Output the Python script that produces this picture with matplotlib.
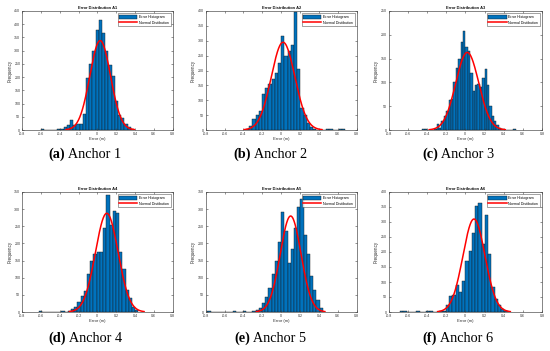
import numpy as np
import matplotlib
matplotlib.use('Agg')
import matplotlib.pyplot as plt

# ---------------- data ----------------
titles = ['Error Distribution A1', 'Error Distribution A2', 'Error Distribution A3',
          'Error Distribution A4', 'Error Distribution A5', 'Error Distribution A6']
cap_tags = ['(a)', '(b)', '(c)', '(d)', '(e)', '(f)']
cap_texts = ['Anchor 1', 'Anchor 2', 'Anchor 3', 'Anchor 4', 'Anchor 5', 'Anchor 6']
legend_labels = ['Error Histogram', 'Normal Distibution']
x_ticks = [-0.8, -0.6, -0.4, -0.2, 0, 0.2, 0.4, 0.6, 0.8]
y_max = [450, 400, 250, 350, 350, 400]

a1_start, a1_width = -0.596, 0.034
a1_counts = [2, 0, 1, 0, 0, 3, 5, 12, 20, 38, 20, 22, 22, 60, 195, 250, 300, 380, 415,
             365, 300, 245, 205, 110, 55, 45, 22, 10, 5]

a2_start, a2_width = -0.374, 0.034
a2_counts = [5, 15, 38, 50, 65, 120, 140, 155, 170, 190, 225, 315, 250, 265, 285, 395,
             205, 75, 50, 25, 10, 5, 0, 0, 0, 2, 2, 0, 0, 2, 2]

a3_start, a3_width = -0.45, 0.025
a3_counts = [2, 2, 0, 0, 0, 3, 12, 5, 18, 30, 40, 62, 65, 100, 130, 150, 185, 207, 175,
             165, 120, 82, 95, 97, 90, 110, 128, 95, 50, 30, 18, 10, 5, 2, 0, 0, 0, 0, 3]

a4_start, a4_width = -0.619, 0.034
a4_counts = [2, 0, 0, 0, 0, 0, 0, 2, 0, 3, 8, 15, 30, 48, 60, 110, 150, 170, 175, 175,
             245, 340, 255, 295, 290, 175, 125, 65, 40, 15, 5]

a5_start, a5_width = -0.782, 0.034
a5_counts = [2, 0, 0, 0, 0, 0, 0, 0, 2, 0, 0, 2, 0, 0, 3, 6, 12, 25, 45, 70, 110, 150,
             205, 293, 235, 143, 185, 245, 305, 330, 225, 170, 105, 65, 35, 12]

a6_start, a6_width = -0.68, 0.034
a6_counts = [2, 2, 0, 0, 0, 2, 0, 0, 2, 2, 0, 0, 2, 5, 22, 55, 58, 90, 68, 105, 170,
             205, 262, 352, 363, 228, 325, 195, 85, 45, 25, 10, 5]

# normal fit
fit_mu = [0.03, 0.02, 0.02, 0.10, 0.10, 0.09]
fit_sigma = [0.11, 0.125, 0.12, 0.12, 0.11, 0.115]
fit_peak = [338, 295, 163, 288, 280, 310]

hists = [(a1_start, a1_width, a1_counts), (a2_start, a2_width, a2_counts),
         (a3_start, a3_width, a3_counts), (a4_start, a4_width, a4_counts),
         (a5_start, a5_width, a5_counts), (a6_start, a6_width, a6_counts)]

# ---------------- layout ----------------
W, H = 550, 351
fig = plt.figure(figsize=(5.5, 3.51), dpi=100)
fig.patch.set_facecolor('white')

col_left = [22, 205.7, 388.7]
col_w = [150.7, 151, 153.3]
row_top = [11, 192]
row_h = [119, 120]
cap_cx = [85, 270, 458]
cap_y = [158, 342]

plt.rcParams['font.family'] = ['Liberation Sans', 'DejaVu Sans']
axcol = '#404040'

for i in range(6):
    r, c = divmod(i, 3)
    ax = fig.add_axes([col_left[c] / W, 1 - (row_top[r] + row_h[r]) / H,
                       col_w[c] / W, row_h[r] / H])
    start, w, counts = hists[i]
    counts = np.array(counts, dtype=float)
    edges = start + w * np.arange(len(counts))
    bars = ax.bar(edges, counts, width=w, align='edge', color='#0072BD',
                  edgecolor='#1a1a1a', linewidth=0.3)
    mu, sg, pk = fit_mu[i], fit_sigma[i], fit_peak[i]
    xs = np.linspace(mu - 3.3 * sg, mu + 3.3 * sg, 200)
    ys = pk * np.exp(-(xs - mu) ** 2 / (2 * sg ** 2))
    line, = ax.plot(xs, ys, color='red', lw=1.1)

    ax.set_xlim(-0.8, 0.8)
    ax.set_ylim(0, y_max[i])
    ax.set_xticks(x_ticks)
    ax.set_xticklabels(['%g' % t for t in x_ticks])
    ax.set_yticks(np.arange(0, y_max[i] + 1, 50))
    ax.tick_params(direction='in', top=True, right=True, length=1.2, width=0.4,
                   labelsize=2.6, pad=1.2, colors=axcol, labelcolor='#333333')
    for s in ax.spines.values():
        s.set_color(axcol)
        s.set_linewidth(0.45)
    ax.set_title(titles[i], fontsize=2.9, fontweight='bold', pad=1.5, color='#111111')
    ax.set_xlabel('Error (m)', fontsize=3.1, labelpad=1.0, color='#333333')
    ax.set_ylabel('Frequency', fontsize=3.3, labelpad=1.5, color='#333333')
    leg = ax.legend([bars, line], legend_labels, loc='upper right', fontsize=2.6,
                    frameon=True, fancybox=False, handlelength=5.0, handleheight=1.3,
                    borderpad=0.45, labelspacing=0.4, handletextpad=0.5,
                    borderaxespad=0.6)
    leg.get_frame().set_edgecolor('#333333')
    leg.get_frame().set_linewidth(0.4)

caps = []
for i in range(6):
    r, c = divmod(i, 3)
    t1 = fig.text(cap_cx[c] / W, 1 - cap_y[r] / H, cap_tags[i], fontsize=10.3,
                  fontweight='bold', family='Liberation Serif', ha='left', va='baseline')
    t2 = fig.text(0, 0, ' ' + cap_texts[i], fontsize=10.3, family='Liberation Serif',
                  ha='left', va='baseline')
    caps.append((t1, t2, cap_cx[c] / W, 1 - cap_y[r] / H))

fig.canvas.draw()
rend = fig.canvas.get_renderer()
for t1, t2, cx, cy in caps:
    w1 = t1.get_window_extent(rend).width / W
    w2 = t2.get_window_extent(rend).width / W
    x0 = cx - (w1 + w2) / 2
    t1.set_position((x0, cy))
    t2.set_position((x0 + w1, cy))

fig.savefig('out.png', dpi=100, facecolor='white')
